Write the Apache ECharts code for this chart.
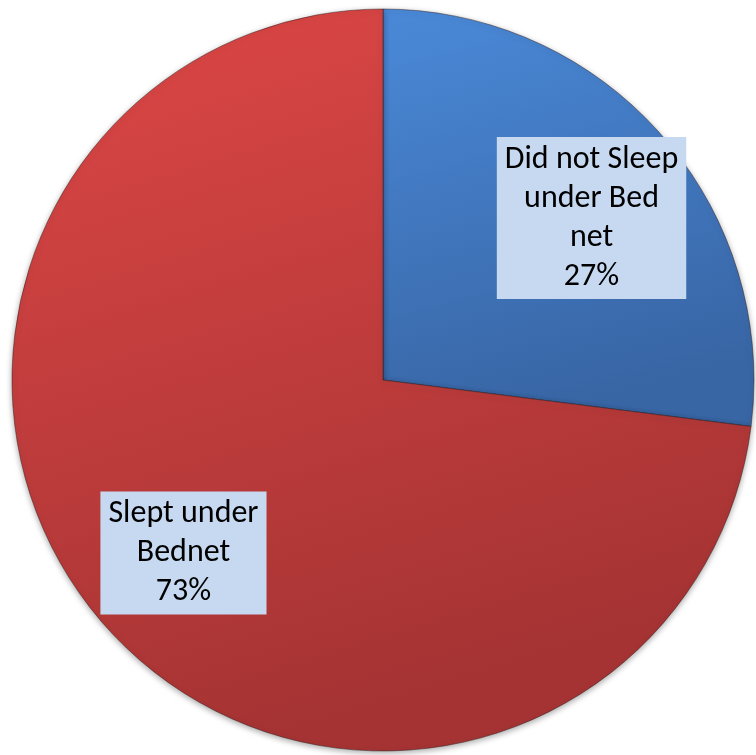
<!DOCTYPE html>
<html>
<head>
<meta charset="utf-8">
<script src="https://cdn.jsdelivr.net/npm/echarts@6/dist/echarts.min.js"></script>
<style>
  html, body { margin: 0; padding: 0; background: #ffffff; }
  #chart { width: 756px; height: 755px; }
</style>
</head>
<body>
<div id="chart"></div>
<script>
// Bed net use among respondents (percent)
const categories = ['Did not Sleep\nunder Bed\nnet', 'Slept under\nBednet'];
const values = [27, 73];

const fills = [
  { top: '#4a89d8', bottom: '#3865a4' },
  { top: '#dd4746', bottom: '#a53333' }
];
// small nudges of the callout boxes away from the slice bisector
const labelNudge = [[9, 14], [0, -3]];

const chart = echarts.init(document.getElementById('chart'), null, { renderer: 'canvas' });

const pieCenter = [383, 380];
const pieRadius = 371;

const sliceData = categories.map((name, i) => ({
  name,
  value: values[i],
  itemStyle: {
    color: {
      type: 'linear', x: 0, y: 0, x2: 0.3, y2: 1,
      colorStops: [
        { offset: 0, color: fills[i].top },
        { offset: 1, color: fills[i].bottom }
      ]
    }
  }
}));

const labelData = categories.map((name, i) => ({
  name,
  value: values[i],
  label: { offset: labelNudge[i] }
}));

chart.setOption({
  animation: false,
  series: [
    {
      type: 'pie',
      center: pieCenter,
      radius: pieRadius,
      startAngle: 90,
      clockwise: true,
      silent: true,
      label: { show: false },
      labelLine: { show: false },
      itemStyle: {
        borderColor: 'rgba(40,20,20,0.45)',
        borderWidth: 1,
        shadowBlur: 6,
        shadowOffsetY: 2,
        shadowColor: 'rgba(0,0,0,0.35)'
      },
      data: sliceData
    },
    {
      // transparent ring that only carries the data labels
      type: 'pie',
      center: pieCenter,
      radius: [155, pieRadius],
      startAngle: 90,
      clockwise: true,
      silent: true,
      itemStyle: { color: 'rgba(0,0,0,0)' },
      labelLine: { show: false },
      label: {
        show: true,
        position: 'inside',
        formatter: p => p.name + '\n' + p.value + '%',
        fontFamily: 'Carlito, Lato, sans-serif',
        fontSize: 32,
        lineHeight: 39,
        color: '#000000',
        align: 'center',
        backgroundColor: '#c6d9f1',
        padding: [4, 8, 2, 8]
      },
      data: labelData
    }
  ]
});
</script>
</body>
</html>
